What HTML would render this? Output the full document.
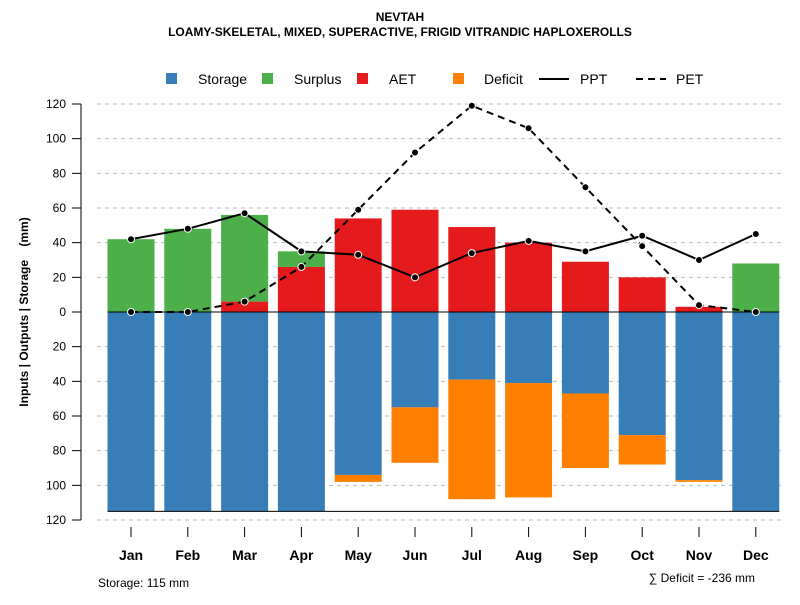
<!DOCTYPE html>
<html><head><meta charset="utf-8"><style>body{margin:0;background:#fff}svg{font-family:"Liberation Sans",sans-serif}</style></head>
<body>
<svg id="c" width="800" height="600">
<text x="400" y="21" text-anchor="middle" font-size="12" font-weight="bold">NEVTAH</text>
<text x="400" y="36" text-anchor="middle" font-size="12" font-weight="bold">LOAMY-SKELETAL, MIXED, SUPERACTIVE, FRIGID VITRANDIC HAPLOXEROLLS</text>
<text transform="translate(28,312) rotate(-90)" text-anchor="middle" font-size="12" font-weight="bold" style="white-space:pre" xml:space="preserve">Inputs | Outputs | Storage    (mm)</text>
<text x="98" y="587" font-size="12">Storage: 115 mm</text>
<text x="755" y="582" text-anchor="end" font-size="12">∑ Deficit = -236 mm</text>
<g id="legend" font-size="14">
<rect x="166" y="73" width="11" height="11" fill="#377eb8"/><text x="198" y="84">Storage</text>
<rect x="262" y="73" width="11" height="11" fill="#4daf4a"/><text x="294" y="84">Surplus</text>
<rect x="357" y="73" width="11" height="11" fill="#e41a1c"/><text x="389" y="84">AET</text>
<rect x="453" y="73" width="11" height="11" fill="#ff7f00"/><text x="484" y="84">Deficit</text>
<line x1="539" y1="79" x2="569" y2="79" stroke="#000" stroke-width="2"/><text x="580" y="84">PPT</text>
<line x1="636" y1="79" x2="666" y2="79" stroke="#000" stroke-width="2" stroke-dasharray="7,5"/><text x="676" y="84">PET</text>
</g>
</svg>
<script>
const months=["Jan","Feb","Mar","Apr","May","Jun","Jul","Aug","Sep","Oct","Nov","Dec"];
const storage=[115,115,115,115,94,55,39,41,47,71,97,115];
const deficit=[0,0,0,0,4,32,69,66,43,17,1,0];
const aet=[0,0,6,26,54,59,49,40,29,20,3,0];
const surplus=[42,48,50,9,0,0,0,0,0,0,0,28];
const ppt=[42,48,57,35,33,20,34,41,35,44,30,45];
const pet=[0,0,6,26,59,92,119,106,72,38,4,0];
const yTicks=[120,100,80,60,40,20,0,-20,-40,-60,-80,-100,-120];
const svg=document.getElementById('c');const NS="http://www.w3.org/2000/svg";
const y=v=>312-v*(208/120);
const x=i=>131+i*56.8;
const bw=47;
function mk(t,a,p){const e=document.createElementNS(NS,t);for(const k in a)e.setAttribute(k,a[k]);(p||svg).appendChild(e);return e;}
yTicks.forEach(t=>{
 if(t!==0){const g=mk('line',{x1:97,x2:785,y1:y(t),y2:y(t),stroke:'#bbb','stroke-dasharray':'4,4'});
 
 }
 const tk=mk('line',{x1:72,x2:81,y1:y(t),y2:y(t),stroke:'#000'});
 
 
 const l=mk('text',{x:66,y:y(t)+4,'text-anchor':'end','font-size':12});l.textContent=Math.abs(t);
 
 
});
const ax=mk('line',{x1:81,x2:81,y1:y(120),y2:y(-120),stroke:'#000'});


function bar(i,v0,v1,c,n){if(v1===v0)return;const r=mk('rect',{x:x(i)-bw/2,y:Math.min(y(v0),y(v1)),width:bw,height:Math.abs(y(v0)-y(v1)),fill:c});
 
 }
months.forEach((m,i)=>{
 bar(i,0,-storage[i],'#377eb8','storage');
 bar(i,-storage[i],-storage[i]-deficit[i],'#ff7f00','deficit');
 bar(i,0,aet[i],'#e41a1c','aet');
 bar(i,aet[i],aet[i]+surplus[i],'#4daf4a','surplus');
 const tk=mk('line',{x1:x(i),x2:x(i),y1:527,y2:537,stroke:'#000'});
 
 
 const l=mk('text',{x:x(i),y:560,'text-anchor':'middle','font-size':14,'font-weight':'bold'});l.textContent=m;
 
 
});
const z=mk('line',{x1:x(0)-bw/2,x2:x(11)+bw/2,y1:y(0),y2:y(0),stroke:'#000'});


const cap=mk('line',{x1:x(0)-bw/2,x2:x(11)+bw/2,y1:y(-115),y2:y(-115),stroke:'#000'});


function series(vals,dash,n){
 const p=mk('polyline',{points:vals.map((v,i)=>x(i)+','+y(v)).join(' '),fill:'none',stroke:'#000','stroke-width':2,'stroke-dasharray':dash});
 
 
 vals.forEach((v,i)=>{const c=mk('circle',{cx:x(i),cy:y(v),r:3.5,fill:'#000',stroke:'#fff','stroke-width':1});
 
 });
}
series(ppt,'none','ppt');
series(pet,'7,5','pet');
</script>
</body></html>
